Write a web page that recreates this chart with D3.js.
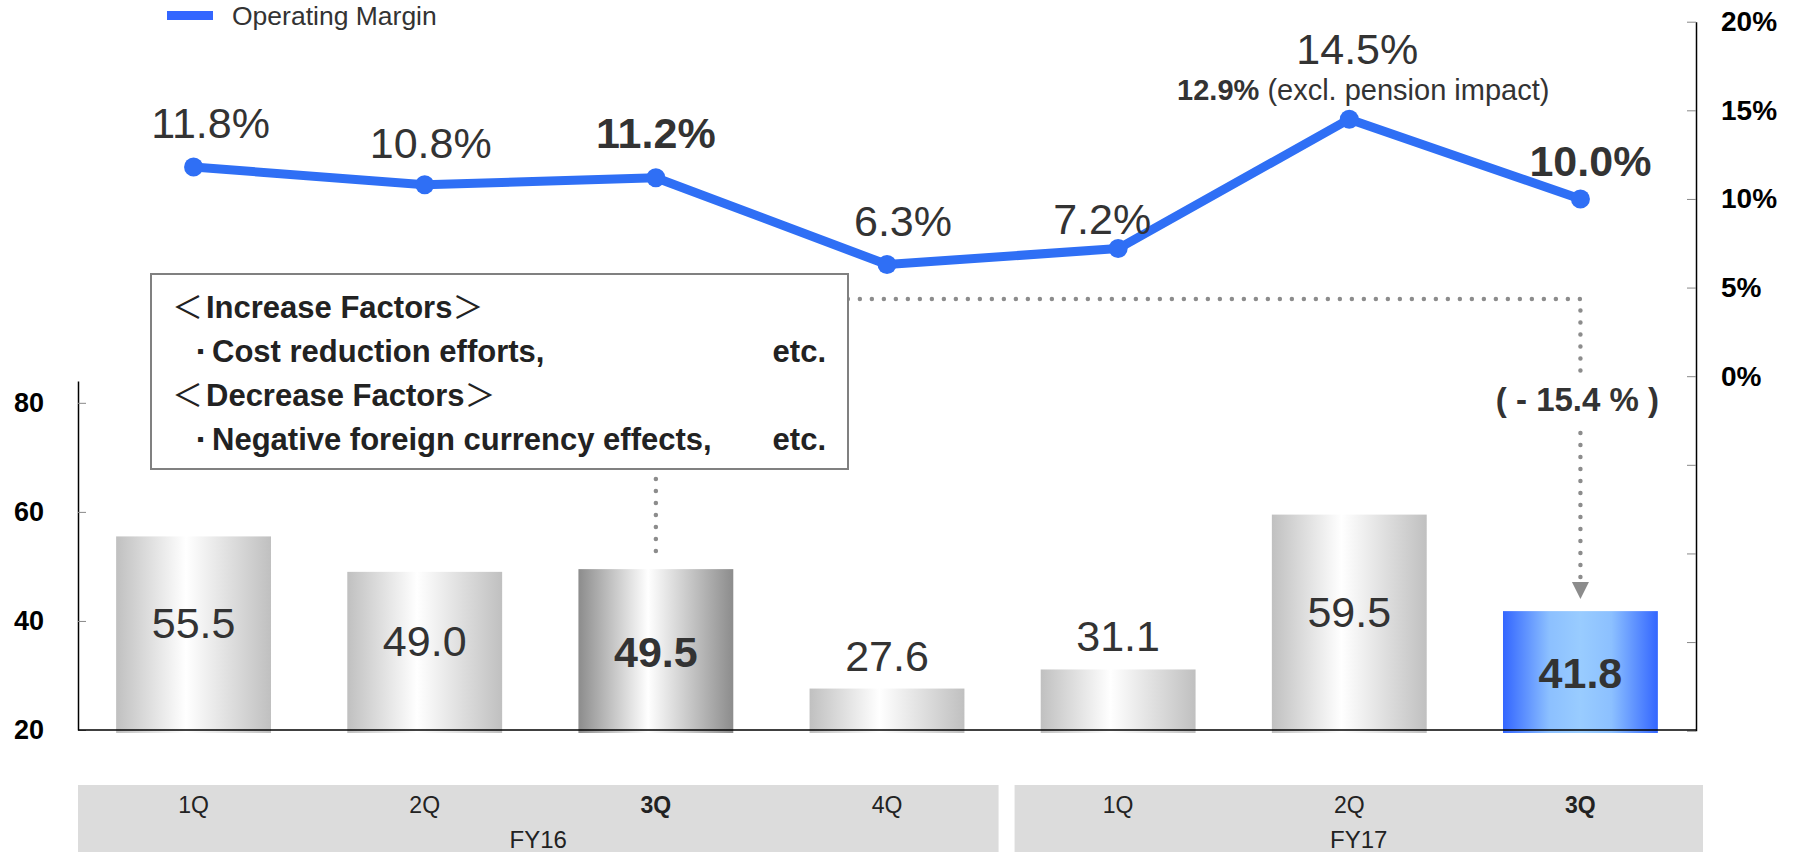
<!DOCTYPE html>
<html>
<head>
<meta charset="utf-8">
<script src="https://cdn.jsdelivr.net/npm/d3@7"></script>
<style>
  body { margin: 0; background: #fff; }
  svg { display: block; font-family: "Liberation Sans", Arial, sans-serif; }
</style>
</head>
<body>
<div id="chart"></div>
<script>
// data
var quarters = ["1Q", "2Q", "3Q", "4Q", "1Q", "2Q", "3Q"];
var fiscalYears = ["FY16", "FY16", "FY16", "FY16", "FY17", "FY17", "FY17"];
var operatingIncome = [55.5, 49.0, 49.5, 27.6, 31.1, 59.5, 41.8];
var operatingMargin = [11.8, 10.8, 11.2, 6.3, 7.2, 14.5, 10.0];
var emphasized = [2, 6];   // FY16 3Q and FY17 3Q
var current = 6;
var leftTicks = [20, 40, 60, 80];
var rightTicks = [-20, -15, -10, -5, 0, 5, 10, 15, 20];
var legendLabel = "Operating Margin";
var marginNoteBold = "12.9%";
var marginNote = " (excl. pension impact)";
var changeLabel = "( - 15.4 % )";
var increaseFactors = ["Cost reduction efforts,"];
var decreaseFactors = ["Negative foreign currency effects,"];

var width = 1796, height = 852;
var plot = { left: 78, right: 1696, bottom: 730 };

var svg = d3.select("#chart").append("svg")
  .attr("width", width)
  .attr("height", height);

var keys = quarters.map(function(q, i) { return fiscalYears[i] + " " + q; });

var x = d3.scaleBand()
  .domain(keys)
  .range([plot.left, plot.right])
  .paddingInner(0.33)
  .paddingOuter(0.165);

var yL = d3.scaleLinear().domain([20, 84]).range([plot.bottom, 381]);
var yR = d3.scaleLinear().domain([-20, 20]).range([730.7, 21.7]);

function cx(i) { return x(keys[i]) + x.bandwidth() / 2; }
function isBold(i) { return emphasized.indexOf(i) >= 0; }

// gradients
var defs = svg.append("defs");
function grad(id, stops) {
  var g = defs.append("linearGradient").attr("id", id)
    .attr("x1", "0%").attr("x2", "100%").attr("y1", "0%").attr("y2", "0%");
  stops.forEach(function(s) {
    g.append("stop").attr("offset", s[0]).attr("stop-color", s[1]);
  });
}
grad("gGrey", [["0%", "#c0c0c0"], ["45%", "#ffffff"], ["100%", "#c0c0c0"]]);
grad("gDark", [["0%", "#8c8c8c"], ["45%", "#ffffff"], ["100%", "#8c8c8c"]]);
grad("gBlue", [["0%", "#3366ff"], ["30%", "#8cc0ff"], ["50%", "#99ccff"], ["70%", "#8cc0ff"], ["100%", "#3366ff"]]);

// category band at the bottom
var groups = d3.groups(keys.map(function(k, i) { return i; }), function(i) { return fiscalYears[i]; });
var outer = (x.step() - x.bandwidth()) / 2;
groups.forEach(function(g, gi) {
  var idx = g[1];
  var left = x(keys[idx[0]]) - outer + (gi > 0 ? 12 : 0);
  var right = x(keys[idx[idx.length - 1]]) + x.bandwidth() + outer + (gi < groups.length - 1 ? -4 : 7);
  svg.append("rect")
    .attr("x", left).attr("y", 785)
    .attr("width", right - left).attr("height", height - 785)
    .attr("fill", "#dcdcdc");
  svg.append("text")
    .attr("x", (left + right) / 2).attr("y", 848)
    .attr("text-anchor", "middle")
    .style("font-size", "24px").style("fill", "#222")
    .text(g[0]);
});
svg.selectAll(".qlabel").data(quarters).enter().append("text")
  .attr("class", "qlabel")
  .attr("x", function(d, i) { return cx(i); })
  .attr("y", 813)
  .attr("text-anchor", "middle")
  .style("font-size", "23px")
  .style("font-weight", function(d, i) { return isBold(i) ? "bold" : "normal"; })
  .style("fill", "#222")
  .text(function(d) { return d; });

// dotted connectors (drawn before the box so it covers them)
var dotted = function(sel) {
  return sel.attr("fill", "none").attr("stroke", "#8c8c8c")
    .attr("stroke-width", 4.5).attr("stroke-linecap", "round")
    .attr("stroke-dasharray", "0 12");
};
var connY = 299;
svg.append("path").call(dotted)
  .attr("d", "M" + cx(2) + "," + connY + "V" + (yL(operatingIncome[2]) - 17));
svg.append("path").call(dotted)
  .attr("d", "M" + cx(2) + "," + connY + "H" + cx(current) + "V" + 372);
svg.append("path").call(dotted)
  .attr("d", "M" + cx(current) + ",433V" + (yL(operatingIncome[current]) - 30));
var tipY = yL(operatingIncome[current]) - 12;
svg.append("path")
  .attr("d", "M" + (cx(current) - 8.5) + "," + (tipY - 17) + "H" + (cx(current) + 8.5) + "L" + cx(current) + "," + tipY + "Z")
  .attr("fill", "#8c8c8c");
svg.append("text")
  .attr("x", cx(current) - 3).attr("y", 411)
  .attr("text-anchor", "middle")
  .style("font-size", "33px").style("font-weight", "bold").style("fill", "#333")
  .text(changeLabel);

// bars
svg.selectAll(".bar").data(operatingIncome).enter().append("rect")
  .attr("class", "bar")
  .attr("x", function(d, i) { return x(keys[i]); })
  .attr("y", function(d) { return yL(d); })
  .attr("width", x.bandwidth())
  .attr("height", function(d) { return yL(20) - yL(d) + 3; })
  .attr("fill", function(d, i) {
    return i === current ? "url(#gBlue)" : (isBold(i) ? "url(#gDark)" : "url(#gGrey)");
  });

svg.selectAll(".blabel").data(operatingIncome).enter().append("text")
  .attr("class", "blabel")
  .attr("x", function(d, i) { return cx(i); })
  .attr("y", function(d, i) {
    var h = yL(20) - yL(d);
    if (h < 80) return yL(d) - 18;          // short bars: label above
    return (yL(d) + yL(20)) / 2 + (isBold(i) ? 17 : 5);
  })
  .attr("text-anchor", "middle")
  .style("font-size", "43px")
  .style("font-weight", function(d, i) { return isBold(i) ? "bold" : "normal"; })
  .style("fill", "#333")
  .text(function(d) { return d.toFixed(1); });

// axes
var leftAxis = svg.append("g")
  .attr("transform", "translate(" + plot.left + ",0)")
  .call(d3.axisLeft(yL).tickValues(leftTicks).tickSizeInner(-8).tickSizeOuter(0).tickPadding(34));
leftAxis.select(".domain").attr("stroke", "#000").attr("stroke-width", 1.5);
leftAxis.selectAll(".tick line").attr("stroke", "#888");
leftAxis.selectAll("text").style("font-size", "27px").style("font-weight", "bold")
  .style("font-family", "Liberation Sans, Arial, sans-serif").attr("fill", "#000");

var rightAxis = svg.append("g")
  .attr("transform", "translate(" + plot.right + ",0)")
  .call(d3.axisRight(yR).tickValues(rightTicks).tickSizeInner(-9).tickSizeOuter(0).tickPadding(25)
    .tickFormat(function(d) { return d >= 0 ? d + "%" : ""; }));
rightAxis.select(".domain").attr("stroke", "#000").attr("stroke-width", 1.5);
rightAxis.selectAll(".tick line").attr("stroke", "#888");
rightAxis.selectAll("text").style("font-size", "28px").style("font-weight", "bold")
  .style("font-family", "Liberation Sans, Arial, sans-serif").attr("fill", "#000");

svg.append("line")
  .attr("x1", plot.left).attr("x2", plot.right)
  .attr("y1", yL(20)).attr("y2", yL(20))
  .attr("stroke", "#000").attr("stroke-width", 1.5);

// factors box
var box = svg.append("g");
box.append("rect")
  .attr("x", 151).attr("y", 274).attr("width", 697).attr("height", 195)
  .attr("fill", "#fff").attr("stroke", "#808080").attr("stroke-width", 2);

function heading(label, y) {
  var t = box.append("text").attr("y", y)
    .style("font-size", "31px").style("font-weight", "bold").style("fill", "#222");
  t.append("tspan").attr("x", 172).style("font-family", "Noto Sans CJK JP").style("font-weight", "normal").text("＜");
  t.append("tspan").attr("x", 206).text(label);
  t.append("tspan").style("font-family", "Noto Sans CJK JP").style("font-weight", "normal").text("＞");
}
function item(label, y) {
  var t = box.append("text").attr("y", y)
    .style("font-size", "31px").style("font-weight", "bold").style("fill", "#222");
  t.append("tspan").attr("x", 197).attr("dy", -4).style("font-size", "20px").text("▪");
  t.append("tspan").attr("x", 212).attr("dy", 4).text(label);
  box.append("text").attr("x", 826).attr("y", y).attr("text-anchor", "end")
    .style("font-size", "31px").style("font-weight", "bold").style("fill", "#222")
    .text("etc.");
}
heading("Increase Factors", 318);
increaseFactors.forEach(function(f, i) { item(f, 362 + i * 44); });
heading("Decrease Factors", 406);
decreaseFactors.forEach(function(f, i) { item(f, 450 + i * 44); });

// operating margin line
var lineColor = "#2f6ff5";
var line = d3.line()
  .x(function(d, i) { return cx(i); })
  .y(function(d) { return yR(d); });
svg.append("path")
  .datum(operatingMargin)
  .attr("d", line)
  .attr("fill", "none")
  .attr("stroke", lineColor)
  .attr("stroke-width", 9)
  .attr("stroke-linejoin", "round");
svg.selectAll(".pt").data(operatingMargin).enter().append("circle")
  .attr("class", "pt")
  .attr("cx", function(d, i) { return cx(i); })
  .attr("cy", function(d) { return yR(d); })
  .attr("r", 9.5)
  .attr("fill", lineColor);

// label placement around each marker (dx, distance above)
var labelShift = [[17, 29], [6, 27], [0, 30], [16, 29], [-16, 15], [8, 55], [10, 23]];
svg.selectAll(".mlabel").data(operatingMargin).enter().append("text")
  .attr("class", "mlabel")
  .attr("x", function(d, i) { return cx(i) + labelShift[i][0]; })
  .attr("y", function(d, i) { return yR(d) - labelShift[i][1]; })
  .attr("text-anchor", "middle")
  .style("font-size", "43px")
  .style("font-weight", function(d, i) { return isBold(i) ? "bold" : "normal"; })
  .style("fill", "#333")
  .text(function(d) { return d.toFixed(1) + "%"; });

var note = svg.append("text")
  .attr("x", cx(5) + 14).attr("y", yR(operatingMargin[5]) - 19)
  .attr("text-anchor", "middle")
  .style("font-size", "29px").style("fill", "#333");
note.append("tspan").style("font-weight", "bold").text(marginNoteBold);
note.append("tspan").text(marginNote);

// legend
svg.append("rect").attr("x", 167).attr("y", 11).attr("width", 46).attr("height", 9)
  .attr("fill", "#3366ff");
svg.append("text").attr("x", 232).attr("y", 25)
  .style("font-size", "26.5px").style("fill", "#333")
  .text(legendLabel);
</script>
</body>
</html>
